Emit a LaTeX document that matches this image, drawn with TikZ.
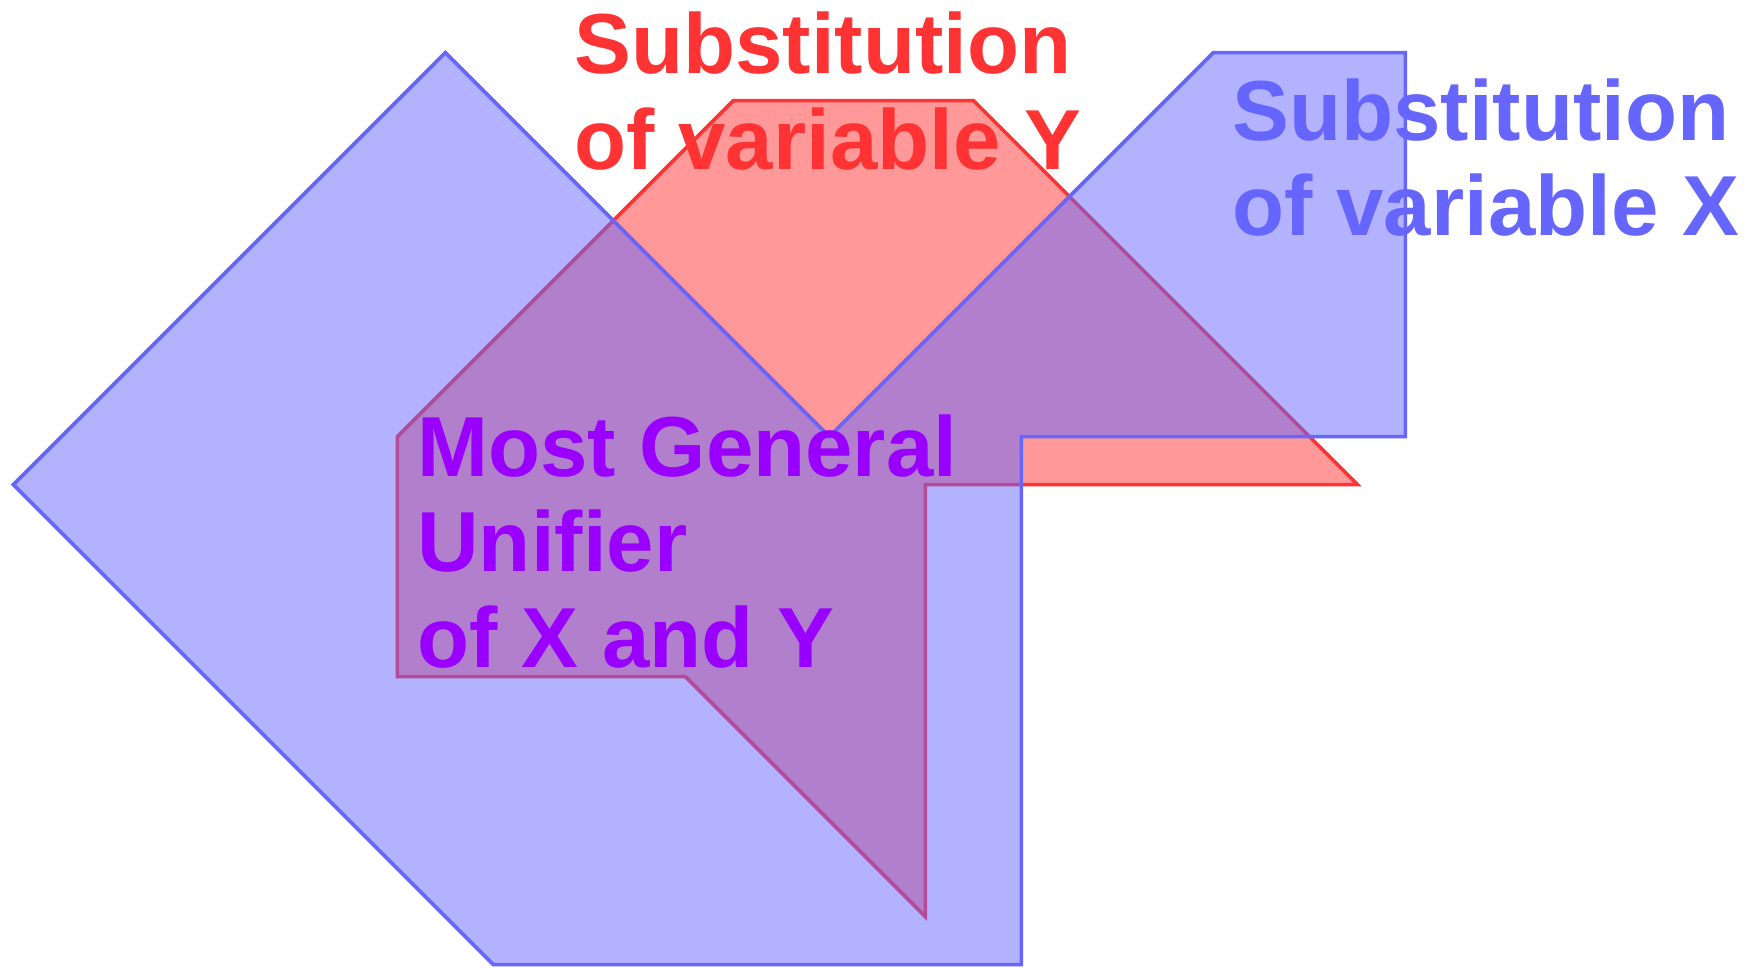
\documentclass[tikz,border=0pt]{standalone}
\usepackage{fontspec}
\setmainfont{Liberation Sans}
\usetikzlibrary{positioning}
\definecolor{varxblue}{HTML}{6666FF}
\definecolor{varyred}{HTML}{FF3333}
\definecolor{mgupurple}{HTML}{9900FF}

\begin{document}
\begin{tikzpicture}[
    x=24pt, y=24pt,
    substx/.style={draw=varxblue, fill=varxblue, fill opacity=0.5, line width=1.8pt},
    substy/.style={draw=varyred, fill=varyred, fill opacity=0.5, line width=1.8pt},
    biglabel/.style={font=\fontsize{42.6}{47.75}\selectfont\bfseries, align=left,
                     anchor=base west, inner sep=0pt}
]
\useasboundingbox (-0.279,1.096) rectangle (36.283,-19.05);
%
\draw[substy] (8,-8) -- (15,-1) -- (20,-1) -- (28,-9) -- (19,-9) -- (19,-18)
    -- (14,-13) -- (8,-13) -- cycle;
\draw[substx] (0,-9) -- (9,0) -- (17,-8) -- (25,0) -- (29,0) -- (29,-8) -- (21,-8)
    -- (21,-19) -- (10,-19) -- cycle;
%
\node[biglabel, text=varyred] (ylabel) at (11.68,-2.43) {Substitution\\of variable Y};
\node[biglabel, text=varxblue] (xlabel) at (25.39,-3.82) {Substitution\\of variable X};
\node[biglabel, text=mgupurple] (mgulabel) at (8.41,-12.8) {Most General\\Unifier\\of X and Y};
\end{tikzpicture}
\end{document}
